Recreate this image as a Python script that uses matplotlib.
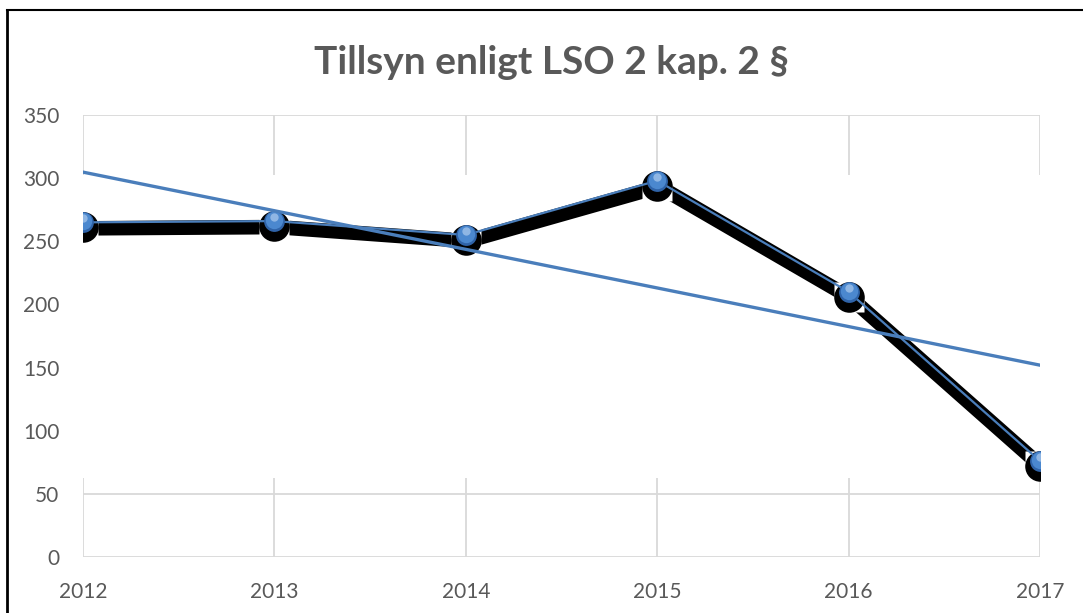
import numpy as np
import matplotlib.pyplot as plt
import matplotlib.transforms as mtransforms

# data
years = ['2012', '2013', '2014', '2015', '2016', '2017']
tillsyn = [265, 266, 255, 298, 210, 76]
yticks = [0, 50, 100, 150, 200, 250, 300, 350]

grey_text = '#595959'
grid_col = '#d9d9d9'
blue = '#4a7ebb'

plt.rcParams['font.family'] = ['Lato', 'DejaVu Sans']

fig = plt.figure(figsize=(10.83, 6.13), dpi=100)
ax = fig.add_axes([83 / 1083, 56 / 613, 957 / 1083, 442 / 613])

x = np.arange(len(years))
y = np.array(tillsyn, dtype=float)

# gridlines, hidden in the middle band like the original
ax.set_axisbelow(True)
ax.grid(True, color=grid_col, linewidth=1.3)
ax.axhspan(62.5, 302.5, color='white', zorder=1, lw=0)


def px(dx, dy):
    return mtransforms.offset_copy(ax.transData, fig=fig, x=dx, y=dy, units='dots')


# heavy black shadow under the series
ax.plot(x, y, color='black', lw=10.5, solid_capstyle='butt', solid_joinstyle='miter',
        transform=px(2, -6), zorder=2)
# white boxes behind markers, then the round shadow
ax.plot(x, y, 's', ms=22, color='white', mec='none', transform=px(0, -5), zorder=3)
ax.plot(x, y, 'o', ms=22, color='black', mec='none', transform=px(0, -5), zorder=4)

# the series itself
ax.plot(x, y, color=blue, lw=1.6, zorder=5)
ax.plot(x, y, 'o', ms=15, color='#2f63a8', mec='none', zorder=6)
ax.plot(x, y, 'o', ms=12.5, color='#4b88cf', mec='none', transform=px(0, 1), zorder=7)
ax.plot(x, y, 'o', ms=6, color='#8fb6e4', mec='none', transform=px(0, 4), zorder=8)

# linear trendline
k, m = np.polyfit(x, y, 1)
ax.plot(x, k * x + m, color=blue, lw=2.4, zorder=9)

ax.set_xlim(0, len(years) - 1)
ax.set_ylim(0, 350)
ax.set_xticks(x)
ax.set_xticklabels(years)
ax.set_yticks(yticks)
ax.tick_params(length=0, labelsize=15, labelcolor=grey_text)
ax.tick_params(axis='x', pad=18)
ax.tick_params(axis='y', pad=17)
for s in ax.spines.values():
    s.set_visible(False)

fig.text(551 / 1083, 1 - 62 / 613, 'Tillsyn enligt LSO 2 kap. 2 §', ha='center', va='center',
         fontsize=28, fontweight='bold', color=grey_text)

# chart frame (only top and left are visible in the crop)
fig.add_artist(plt.Line2D([7 / 1083, 1], [1 - 10 / 613, 1 - 10 / 613], color='black', lw=1.5))
fig.add_artist(plt.Line2D([7 / 1083, 7 / 1083], [0, 1 - 10 / 613], color='black', lw=2))

fig.savefig('out.png', dpi=100)
